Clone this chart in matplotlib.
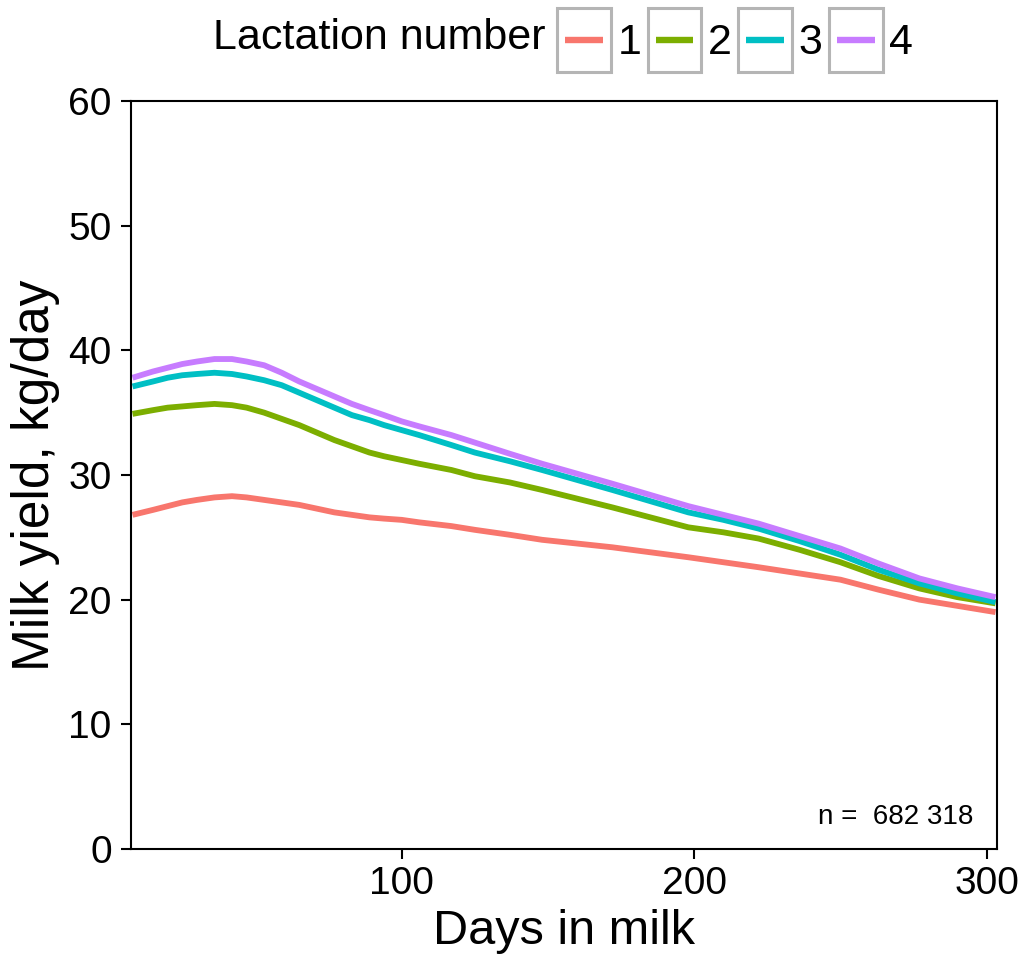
import matplotlib
matplotlib.use("Agg")
import matplotlib.pyplot as plt
from matplotlib.legend_handler import HandlerBase
from matplotlib.patches import Rectangle
from matplotlib.lines import Line2D

plt.rcParams['font.family'] = ['Liberation Sans', 'DejaVu Sans']

days = [8, 15, 20, 25, 30, 36, 42, 47, 53, 59, 65, 71, 77, 83, 89, 94, 100, 106, 117,
        125, 137, 148, 160, 172, 185, 198, 210, 222, 236, 250, 263, 277, 290, 303]
lact1 = [26.8, 27.2, 27.5, 27.8, 28.0, 28.2, 28.3, 28.2, 28.0, 27.8, 27.6, 27.3, 27.0, 26.8, 26.6, 26.5, 26.4, 26.2, 25.9,
         25.6, 25.2, 24.8, 24.5, 24.2, 23.8, 23.4, 23.0, 22.6, 22.1, 21.6, 20.8, 20.0, 19.5, 19.0]
lact2 = [34.9, 35.2, 35.4, 35.5, 35.6, 35.7, 35.6, 35.4, 35.0, 34.5, 34.0, 33.4, 32.8, 32.3, 31.8, 31.5, 31.2, 30.9, 30.4,
         29.9, 29.4, 28.8, 28.1, 27.4, 26.6, 25.8, 25.4, 24.9, 24.0, 23.0, 21.9, 20.9, 20.2, 19.7]
lact3 = [37.1, 37.5, 37.8, 38.0, 38.1, 38.2, 38.1, 37.9, 37.6, 37.2, 36.6, 36.0, 35.4, 34.8, 34.4, 34.0, 33.6, 33.2, 32.4,
         31.8, 31.1, 30.4, 29.6, 28.8, 27.9, 27.0, 26.4, 25.7, 24.7, 23.6, 22.4, 21.3, 20.5, 19.8]
lact4 = [37.8, 38.3, 38.6, 38.9, 39.1, 39.3, 39.3, 39.1, 38.8, 38.2, 37.5, 36.9, 36.3, 35.7, 35.2, 34.8, 34.3, 33.9, 33.2,
         32.6, 31.7, 30.9, 30.1, 29.3, 28.4, 27.5, 26.8, 26.1, 25.1, 24.1, 22.9, 21.7, 20.9, 20.2]
series_labels = ['1', '2', '3', '4']
colors = ['#F8766D', '#7CAE00', '#00BFC4', '#C77CFF']
n_label = 'n =  682 318'

fig = plt.figure(figsize=(10.24, 9.58), dpi=100)
ax = fig.add_axes([0.128, 0.1138, 0.8456, 0.7808])

handles = []
for y, c, lab in zip([lact1, lact2, lact3, lact4], colors, series_labels):
    h, = ax.plot(days, y, color=c, lw=4.2, label=lab, solid_capstyle='butt', solid_joinstyle='round')
    handles.append(h)

ax.set_xlim(7.5, 303.5)
ax.set_ylim(0, 60)
ax.set_xticks([100, 200, 300])
ax.set_yticks([0, 10, 20, 30, 40, 50, 60])
ax.tick_params(axis='both', direction='out', length=7, width=1.5, color='black', labelsize=28, pad=5)
ax.tick_params(axis='y', pad=7)
for s in ax.spines.values():
    s.set_linewidth(1.5)
    s.set_color('black')
ax.set_xlabel('Days in milk', fontsize=35, labelpad=5)
ax.set_ylabel('Milk yield, kg/day', fontsize=37, labelpad=6)

ax.text(0.973, 0.025, n_label, transform=ax.transAxes, ha='right', va='bottom', fontsize=20)


class BoxLineHandler(HandlerBase):
    def create_artists(self, legend, orig_handle, xdescent, ydescent, width, height, fontsize, trans):
        r = Rectangle((-xdescent, -ydescent), width, height, facecolor='white',
                      edgecolor='#b5b5b5', lw=2.2, transform=trans)
        l = Line2D([-xdescent + width * 0.15, -xdescent + width * 0.85],
                   [-ydescent + height / 2] * 2, color=orig_handle.get_color(), lw=4.6,
                   solid_capstyle='butt', transform=trans)
        return [r, l]


fig.text(0.208, 0.960, 'Lactation number', fontsize=31, ha='left', va='center')
leg = fig.legend(handles=handles, labels=series_labels, loc='center left',
                 bbox_to_anchor=(0.544, 0.958), ncol=4, frameon=False, fontsize=31,
                 handler_map={Line2D: BoxLineHandler()}, handlelength=1.25, handleheight=1.9,
                 handletextpad=0.15, columnspacing=0.15, borderpad=0, borderaxespad=0)

fig.savefig('out.png', dpi=100)
